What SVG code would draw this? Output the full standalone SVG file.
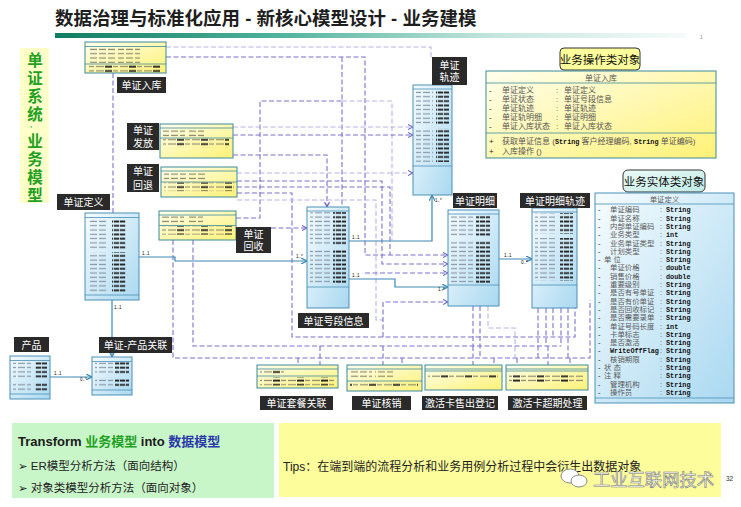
<svg xmlns="http://www.w3.org/2000/svg" width="741" height="507" viewBox="0 0 741 507">
<style>
text{font-family:'Liberation Sans','Noto Sans CJK SC','DejaVu Sans',sans-serif}
.dk{fill:#2a2a2a}
.dkt{fill:#fff;font-size:10px;text-anchor:middle}
.cb{fill:url(#gB);stroke:#4a8fb8;stroke-width:1}
.cy{fill:url(#gY);stroke:#3b8a9c;stroke-width:1}
.sep{stroke:#4a8fb8;stroke-width:0.8}
.sepy{stroke:#3b8a9c;stroke-width:0.8}
.d{fill:none;stroke:#7a70d0;stroke-width:1.1;stroke-dasharray:5 2.5}
.dl{fill:none;stroke:#b7b3e6;stroke-width:1.1;stroke-dasharray:5 2.5}
.s{fill:none;stroke:#3b87b4;stroke-width:1.2}
.ml{font-size:4.5px;fill:#111}
.at{font-size:7.4px;fill:#5a5a5a}
.m{font-family:'Liberation Mono',monospace;font-weight:bold;fill:#111;font-size:6.8px}
.ra{font-size:8px;fill:#555}
</style>
<defs>
<linearGradient id="gB" x1="0" y1="0" x2="1" y2="1"><stop offset="0" stop-color="#f6fcff"/><stop offset="1" stop-color="#a9d8f0"/></linearGradient>
<linearGradient id="gY" x1="0" y1="0" x2="1" y2="1"><stop offset="0" stop-color="#ffffee"/><stop offset="1" stop-color="#fff176"/></linearGradient>
<linearGradient id="gT" x1="0" y1="0" x2="1" y2="1"><stop offset="0" stop-color="#ecfbf8"/><stop offset="1" stop-color="#bfeae4"/></linearGradient>
<linearGradient id="gBar" x1="0" y1="0" x2="1" y2="0"><stop offset="0" stop-color="#0f7d60"/><stop offset="0.35" stop-color="#4fb29a"/><stop offset="0.7" stop-color="#c5e6de"/><stop offset="1" stop-color="#f6fbfa"/></linearGradient>
<pattern id="pg" width="9" height="4.3" patternUnits="userSpaceOnUse"><rect x="0" y="1.5" width="7" height="1.2" fill="#8a96a6"/></pattern>
<pattern id="pk" width="6" height="4.3" patternUnits="userSpaceOnUse"><rect x="0" y="1.3" width="5.2" height="1.8" fill="#222"/></pattern>
<pattern id="py" width="9" height="4.3" patternUnits="userSpaceOnUse"><rect x="0" y="1.5" width="7" height="1.2" fill="#8c8a6c"/></pattern>
<pattern id="pm" width="24" height="4.3" patternUnits="userSpaceOnUse"><rect x="0" y="1.5" width="8" height="1.2" fill="#8c8a6c"/><rect x="9" y="1.3" width="7" height="1.8" fill="#222"/><rect x="17" y="1.5" width="5" height="1.2" fill="#8c8a6c"/></pattern>
<marker id="as" viewBox="0 0 6 6" refX="6" refY="3" markerWidth="5" markerHeight="5" orient="auto"><path d="M0,0 L6,3 L0,6" fill="none" stroke="#3b87b4" stroke-width="1.2"/></marker>
<marker id="ad" viewBox="0 0 6 6" refX="6" refY="3" markerWidth="5" markerHeight="5" orient="auto"><path d="M0,0 L6,3 L0,6" fill="none" stroke="#6a60c0" stroke-width="1.2"/></marker>
</defs>

<rect width="741" height="507" fill="#fff"/>

<!-- title -->
<text x="55" y="25" font-size="18.5" font-weight="bold" fill="#1e1e1e">数据治理与标准化应用 - 新核心模型设计 - 业务建模</text>
<rect x="55" y="33" width="631" height="5" fill="url(#gBar)"/>
<text x="700" y="39" font-size="5" fill="#888" font-family="Liberation Serif,serif">1</text>

<!-- left vertical title -->
<g id="side-label">
<rect x="20" y="48" width="29" height="155" fill="#ffffc8"/>
<g font-size="15.5" font-weight="bold" fill="#22a022" text-anchor="middle">
<text x="35" y="66">单</text><text x="35" y="84">证</text><text x="35" y="102">系</text><text x="35" y="120">统</text>
<text x="31" y="131" font-size="7">'</text>
<text x="35" y="147">业</text><text x="35" y="165">务</text><text x="35" y="183">模</text><text x="35" y="201">型</text>
</g>
</g>

<!-- connectors -->
<g id="connectors">
<path class="dl" d="M166 47 H431 V57"/>
<path class="d" d="M166 57 H365 V255 H448" marker-end="url(#ad)"/>
<path class="d" d="M113 73 V213"/>
<path class="d" d="M342 57 V207"/>
<path class="d" d="M236 218 H260 V101 H342"/>
<path class="dl" d="M342 101 H392 V240"/>
<path class="dl" d="M233 127 H413" marker-end="url(#ad)"/>
<path class="d" d="M233 135 H413" marker-end="url(#ad)"/>
<path class="d" d="M233 155 H327 V207" marker-end="url(#ad)"/>
<path class="dl" d="M237 173 H413" marker-end="url(#ad)"/>
<path class="d" d="M237 181 H382 V264 H448" marker-end="url(#ad)"/>
<path class="d" d="M237 187 H390 V255"/>
<path class="d" d="M237 193 H292 V337 H575 V308"/>
<path class="dl" d="M237 200 H376 V320 H383"/>
<path class="d" d="M271 228 H307" marker-end="url(#ad)"/>
<path class="d" d="M365 273 H448" marker-end="url(#ad)"/>
<path class="d" d="M383 337 V302 H448" marker-end="url(#ad)"/>
<path class="d" d="M173 240 V358 H590 V300"/>
<path class="d" d="M193 240 V346 H561"/>
<path class="d" d="M473 306 V346"/>
<path class="d" d="M480 306 V358"/>
<path class="dl" d="M488 306 V328 H515 V358"/>
<path class="d" d="M538 308 V358"/>
<path class="d" d="M546 308 V346"/>
<path class="d" d="M553 308 V337"/>
<path class="d" d="M561 308 V346"/>
<path class="d" d="M568 308 V358"/>
<path class="d" d="M298 358 V365"/>
<path class="d" d="M320 346 V365"/>
<path class="d" d="M383 346 V365"/>
<path class="d" d="M402 358 V365"/>
<path class="d" d="M473 346 V365"/>
<path class="d" d="M494 358 V365"/>
<path class="d" d="M517 358 V365"/>
<path class="d" d="M548 346 V365"/>
<path class="d" d="M570 358 V365"/>
<!-- solid associations -->
<path class="s" d="M139 257 H175 V261 H307" marker-end="url(#as)"/>
<path class="s" d="M112 300 V357" marker-end="url(#as)"/>
<path class="s" d="M50 377 H92" marker-end="url(#as)"/>
<path class="s" d="M349 241 H432 V195" marker-end="url(#as)"/>
<path class="s" d="M349 279 H395 V287 H448" marker-end="url(#as)"/>
<path class="s" d="M499 259 H532" marker-end="url(#as)"/>
<text class="ml" x="142" y="255">1..1</text>
<text class="ml" x="296" y="258">1..*</text>
<text class="ml" x="114" y="309">1..1</text>
<text class="ml" x="54" y="375">1..1</text>
<text class="ml" x="80" y="381">0..*</text>
<text class="ml" x="352" y="239">1..1</text>
<text class="ml" x="435" y="202">1..*</text>
<text class="ml" x="352" y="277">1..1</text>
<text class="ml" x="438" y="291">1..*</text>
<text class="ml" x="504" y="257">1..1</text>
<text class="ml" x="521" y="264">0..*</text>
</g>

<!-- yellow class boxes -->
<g id="n-rk-small">
<rect class="cy" x="85" y="42" width="81" height="31"/>
<line class="sepy" x1="85" y1="46.5" x2="166" y2="46.5"/>
<rect x="88" y="47" width="28" height="16" fill="url(#py)"/><rect x="118" y="47" width="22" height="16" fill="url(#py)"/>
<line class="sepy" x1="85" y1="64" x2="166" y2="64"/>
<rect x="88" y="64.5" width="72" height="8" fill="url(#pm)"/>
</g>
<g id="n-ff">
<rect class="cy" x="160" y="124" width="73" height="34"/>
<line class="sepy" x1="160" y1="128" x2="233" y2="128"/>
<rect x="163" y="129" width="22" height="8.6" fill="url(#py)"/><rect x="188" y="129" width="16" height="8.6" fill="url(#py)"/>
<line class="sepy" x1="160" y1="138" x2="233" y2="138"/>
<rect x="163" y="138.5" width="66" height="8.6" fill="url(#pm)"/>
</g>
<g id="n-ht">
<rect class="cy" x="161" y="167" width="76" height="30"/>
<line class="sepy" x1="161" y1="171" x2="237" y2="171"/>
<rect x="164" y="172" width="22" height="8.6" fill="url(#py)"/><rect x="189" y="172" width="16" height="8.6" fill="url(#py)"/>
<line class="sepy" x1="161" y1="182" x2="237" y2="182"/>
<rect x="164" y="182.5" width="70" height="8.6" fill="url(#pm)"/>
</g>
<g id="n-hs">
<rect class="cy" x="159" y="211" width="77" height="29"/>
<line class="sepy" x1="159" y1="215" x2="236" y2="215"/>
<rect x="162" y="216" width="22" height="8.6" fill="url(#py)"/><rect x="187" y="216" width="16" height="8.6" fill="url(#py)"/>
<line class="sepy" x1="159" y1="225.5" x2="236" y2="225.5"/>
<rect x="162" y="226" width="70" height="8.6" fill="url(#pm)"/>
</g>
<g id="n-tcgl">
<rect class="cy" x="257" y="365" width="81" height="23"/>
<line class="sepy" x1="257" y1="369" x2="338" y2="369"/>
<rect x="260" y="370" width="24" height="4.3" fill="url(#pm)"/>
<line class="sepy" x1="257" y1="376" x2="338" y2="376"/>
<rect x="260" y="377" width="74" height="8.6" fill="url(#pm)"/>
</g>
<g id="n-hx">
<rect class="cy" x="347" y="365" width="75" height="26"/>
<line class="sepy" x1="347" y1="369" x2="422" y2="369"/>
<rect x="350" y="370" width="22" height="8.6" fill="url(#py)"/><rect x="375" y="370" width="18" height="8.6" fill="url(#py)"/>
<line class="sepy" x1="347" y1="381" x2="422" y2="381"/>
<rect x="350" y="382" width="68" height="4.3" fill="url(#pm)"/>
</g>
<g id="n-sc">
<rect class="cy" x="425" y="365" width="77" height="25"/>
<line class="sepy" x1="425" y1="369" x2="502" y2="369"/>
<line class="sepy" x1="425" y1="371" x2="502" y2="371"/>
<rect x="428" y="374" width="70" height="4.3" fill="url(#pm)"/>
</g>
<g id="n-cq">
<rect class="cy" x="506" y="365" width="82" height="25"/>
<line class="sepy" x1="506" y1="369" x2="588" y2="369"/>
<line class="sepy" x1="506" y1="371" x2="588" y2="371"/>
<rect x="509" y="374" width="74" height="8.6" fill="url(#pm)"/>
</g>

<!-- blue class boxes -->
<g id="n-djdy-left">
<rect class="cb" x="85" y="213" width="54" height="87"/>
<line class="sep" x1="85" y1="217.5" x2="139" y2="217.5"/>
<rect x="88" y="219" width="20" height="30" fill="url(#pg)"/><rect x="88" y="252" width="20" height="40" fill="url(#pg)"/>
<rect x="112" y="219" width="14" height="30" fill="url(#pk)"/><rect x="112" y="252" width="14" height="40" fill="url(#pk)"/>
<line class="sep" x1="85" y1="295" x2="139" y2="295"/>
</g>
<g id="n-cp">
<rect class="cb" x="10" y="356" width="40" height="43"/>
<line class="sep" x1="10" y1="360.5" x2="50" y2="360.5"/>
<rect x="13" y="362" width="18" height="17" fill="url(#pg)"/><rect x="13" y="383" width="18" height="8.6" fill="url(#pg)"/>
<rect x="35" y="362" width="12" height="17" fill="url(#pk)"/><rect x="35" y="383" width="12" height="8.6" fill="url(#pk)"/>
<line class="sep" x1="10" y1="394" x2="50" y2="394"/>
</g>
<g id="n-cpgl">
<rect class="cb" x="92" y="357" width="40" height="38"/>
<line class="sep" x1="92" y1="361.5" x2="132" y2="361.5"/>
<rect x="95" y="362" width="18" height="13" fill="url(#pg)"/><rect x="95" y="378" width="18" height="9" fill="url(#pg)"/>
<rect x="115" y="362" width="14" height="13" fill="url(#pk)"/><rect x="115" y="378" width="14" height="9" fill="url(#pk)"/>
<line class="sep" x1="92" y1="390" x2="132" y2="390"/>
</g>
<g id="n-hdxx">
<rect class="cb" x="307" y="207" width="42" height="101"/>
<line class="sep" x1="307" y1="211" x2="349" y2="211"/>
<rect x="310" y="212" width="20" height="34" fill="url(#pg)"/><rect x="310" y="249" width="20" height="35" fill="url(#pg)"/>
<rect x="333" y="212" width="13" height="34" fill="url(#pk)"/><rect x="333" y="249" width="13" height="35" fill="url(#pk)"/>
<line class="sep" x1="307" y1="287" x2="349" y2="287"/>
</g>
<g id="n-gj">
<rect class="cb" x="413" y="85" width="39" height="110"/>
<line class="sep" x1="413" y1="89" x2="452" y2="89"/>
<rect x="416" y="90" width="17" height="34" fill="url(#pg)"/><rect x="416" y="128" width="17" height="34" fill="url(#pg)"/>
<rect x="436" y="90" width="13" height="34" fill="url(#pk)"/><rect x="436" y="128" width="13" height="34" fill="url(#pk)"/>
<line class="sep" x1="413" y1="166" x2="452" y2="166"/>
</g>
<g id="n-mx">
<rect class="cb" x="448" y="210" width="51" height="96"/>
<line class="sep" x1="448" y1="214" x2="499" y2="214"/>
<rect x="451" y="215" width="22" height="21" fill="url(#pg)"/><rect x="451" y="240" width="22" height="43" fill="url(#pg)"/>
<rect x="476" y="215" width="14" height="21" fill="url(#pk)"/><rect x="476" y="240" width="14" height="43" fill="url(#pk)"/>
<line class="sep" x1="448" y1="285" x2="499" y2="285"/>
</g>
<g id="n-mxgj">
<rect class="cb" x="532" y="208" width="45" height="100"/>
<line class="sep" x1="532" y1="212" x2="577" y2="212"/>
<rect x="535" y="213" width="20" height="21" fill="url(#pg)"/><rect x="535" y="238" width="20" height="43" fill="url(#pg)"/>
<rect x="560" y="213" width="13" height="21" fill="url(#pk)"/><rect x="560" y="238" width="13" height="43" fill="url(#pk)"/>
<line class="sep" x1="532" y1="285" x2="577" y2="285"/>
</g>

<!-- dark labels -->
<g id="lbl-rk"><rect class="dk" x="117" y="77" width="49" height="16"/><text class="dkt" x="141.5" y="89">单证入库</text></g>
<g id="lbl-ff"><rect class="dk" x="127" y="123" width="32" height="27"/><text class="dkt" x="143" y="134">单证</text><text class="dkt" x="143" y="147">发放</text></g>
<g id="lbl-ht"><rect class="dk" x="127" y="164" width="32" height="28"/><text class="dkt" x="143" y="175">单证</text><text class="dkt" x="143" y="189">回退</text></g>
<g id="lbl-hs"><rect class="dk" x="236" y="227" width="35" height="26"/><text class="dkt" x="253.5" y="238">单证</text><text class="dkt" x="253.5" y="250">回收</text></g>
<g id="lbl-djdy"><rect class="dk" x="57" y="194" width="53" height="16"/><text class="dkt" x="83.5" y="206">单证定义</text></g>
<g id="lbl-cp"><rect class="dk" x="14" y="337" width="35" height="15"/><text class="dkt" x="31.5" y="348.5">产品</text></g>
<g id="lbl-cpgl"><rect class="dk" x="99" y="337" width="73" height="16"/><text class="dkt" x="135.5" y="349">单证-产品关联</text></g>
<g id="lbl-hdxx"><rect class="dk" x="298" y="313" width="71" height="15"/><text class="dkt" x="333.5" y="324.5">单证号段信息</text></g>
<g id="lbl-gj"><rect class="dk" x="432" y="57" width="35" height="28"/><text class="dkt" x="449.5" y="68.5">单证</text><text class="dkt" x="449.5" y="81">轨迹</text></g>
<g id="lbl-mx"><rect class="dk" x="453" y="193" width="44" height="15"/><text class="dkt" x="475" y="204.5">单证明细</text></g>
<g id="lbl-mxgj"><rect class="dk" x="520" y="193" width="70" height="15"/><text class="dkt" x="555" y="204.5">单证明细轨迹</text></g>
<g id="lbl-tcgl"><rect class="dk" x="260" y="396" width="73" height="14"/><text class="dkt" x="296.5" y="407">单证套餐关联</text></g>
<g id="lbl-hx"><rect class="dk" x="352" y="396" width="59" height="14"/><text class="dkt" x="381.5" y="407">单证核销</text></g>
<g id="lbl-sc"><rect class="dk" x="422" y="396" width="76" height="14"/><text class="dkt" x="460" y="407">激活卡售出登记</text></g>
<g id="lbl-cq"><rect class="dk" x="508" y="396" width="79" height="14"/><text class="dkt" x="547.5" y="407">激活卡超期处理</text></g>

<!-- right: operation object -->
<g id="legend-op">
<rect x="560" y="48" width="80" height="22" rx="4" fill="#ffff9c" stroke="#333" stroke-width="1"/>
<text x="600" y="63.5" font-size="11.5" text-anchor="middle" fill="#111">业务操作类对象</text>
</g>
<g id="n-rk-big">
<rect class="cy" x="486" y="71" width="230" height="87" stroke="#4a8aa0"/>
<line class="sepy" x1="486" y1="83" x2="716" y2="83"/>
<text class="ra" x="601" y="80.5" text-anchor="middle">单证入库</text>
<g class="ra">
<text y="93"><tspan x="489" fill="#222">-</tspan><tspan x="502">单证定义</tspan><tspan x="556">:</tspan><tspan x="564">单证定义</tspan></text>
<text y="102"><tspan x="489" fill="#222">-</tspan><tspan x="502">单证状态</tspan><tspan x="556">:</tspan><tspan x="564">单证号段信息</tspan></text>
<text y="111"><tspan x="489" fill="#222">-</tspan><tspan x="502">单证轨迹</tspan><tspan x="556">:</tspan><tspan x="564">单证轨迹</tspan></text>
<text y="120"><tspan x="489" fill="#222">-</tspan><tspan x="502">单证轨明细</tspan><tspan x="556">:</tspan><tspan x="564">单证明细</tspan></text>
<text y="129"><tspan x="489" fill="#222">-</tspan><tspan x="502">单证入库状态</tspan><tspan x="556">:</tspan><tspan x="564">单证入库状态</tspan></text>
</g>
<line class="sepy" x1="486" y1="133" x2="716" y2="133"/>
<text class="ra" y="143.5"><tspan x="489" fill="#222">+</tspan><tspan x="502">获取单证信息 (</tspan><tspan class="m" font-size="8">String</tspan><tspan> 客户经理编码, </tspan><tspan class="m" font-size="8">String</tspan><tspan> 单证编码)</tspan></text>
<text class="ra" y="153.5"><tspan x="489" fill="#222">+</tspan><tspan x="502">入库操作 ()</tspan></text>
</g>

<!-- right: entity object -->
<g id="legend-ent">
<rect x="623" y="170" width="82" height="22" rx="5" fill="url(#gT)" stroke="#333" stroke-width="1"/>
<text x="664" y="185.5" font-size="11.5" text-anchor="middle" fill="#111">业务实体类对象</text>
</g>
<g id="n-djdy-big">
<rect class="cb" x="595" y="193" width="139" height="210"/>
<line class="sep" x1="595" y1="204" x2="734" y2="204"/>
<text class="at" x="664.5" y="201.5" text-anchor="middle">单证定义</text>
<g class="at">
<text y="212.3"><tspan x="598" fill="#222">-</tspan><tspan x="610">单证编码</tspan><tspan x="660">:</tspan><tspan x="666" class="m">String</tspan></text>
<text y="220.6"><tspan x="598" fill="#222">-</tspan><tspan x="610">单证名称</tspan><tspan x="660">:</tspan><tspan x="666" class="m">String</tspan></text>
<text y="228.9"><tspan x="598" fill="#222">-</tspan><tspan x="610">内部单证编码</tspan><tspan x="660">:</tspan><tspan x="666" class="m">String</tspan></text>
<text y="237.2"><tspan x="598" fill="#222">-</tspan><tspan x="610">业务类型</tspan><tspan x="660">:</tspan><tspan x="666" class="m">int</tspan></text>
<text y="245.5"><tspan x="598" fill="#222">-</tspan><tspan x="610">业务单证类型</tspan><tspan x="660">:</tspan><tspan x="666" class="m">String</tspan></text>
<text y="253.8"><tspan x="598" fill="#222">-</tspan><tspan x="610">计划类型</tspan><tspan x="660">:</tspan><tspan x="666" class="m">String</tspan></text>
<text y="262.1"><tspan x="598" fill="#222">-</tspan><tspan x="604">单 位</tspan><tspan x="660">:</tspan><tspan x="666" class="m">String</tspan></text>
<text y="270.4"><tspan x="598" fill="#222">-</tspan><tspan x="610">单证价格</tspan><tspan x="660">:</tspan><tspan x="666" class="m">double</tspan></text>
<text y="278.7"><tspan x="598" fill="#222">-</tspan><tspan x="610">销售价格</tspan><tspan x="660">:</tspan><tspan x="666" class="m">double</tspan></text>
<text y="287"><tspan x="598" fill="#222">-</tspan><tspan x="610">重要级别</tspan><tspan x="660">:</tspan><tspan x="666" class="m">String</tspan></text>
<text y="295.3"><tspan x="598" fill="#222">-</tspan><tspan x="610">是否有号单证</tspan><tspan x="660">:</tspan><tspan x="666" class="m">String</tspan></text>
<text y="303.6"><tspan x="598" fill="#222">-</tspan><tspan x="610">是否有价单证</tspan><tspan x="660">:</tspan><tspan x="666" class="m">String</tspan></text>
<text y="311.9"><tspan x="598" fill="#222">-</tspan><tspan x="610">是否回收标记</tspan><tspan x="660">:</tspan><tspan x="666" class="m">String</tspan></text>
<text y="320.2"><tspan x="598" fill="#222">-</tspan><tspan x="610">是否需要录单</tspan><tspan x="660">:</tspan><tspan x="666" class="m">String</tspan></text>
<text y="328.5"><tspan x="598" fill="#222">-</tspan><tspan x="610">单证号码长度</tspan><tspan x="660">:</tspan><tspan x="666" class="m">int</tspan></text>
<text y="336.8"><tspan x="598" fill="#222">-</tspan><tspan x="610">卡单标志</tspan><tspan x="660">:</tspan><tspan x="666" class="m">String</tspan></text>
<text y="345.1"><tspan x="598" fill="#222">-</tspan><tspan x="610">是否激活</tspan><tspan x="660">:</tspan><tspan x="666" class="m">String</tspan></text>
<text y="353.4"><tspan x="598" fill="#222">-</tspan><tspan x="610" class="m" font-size="6.3">WriteOffFlag</tspan><tspan x="660">:</tspan><tspan x="666" class="m">String</tspan></text>
<text y="361.7"><tspan x="598" fill="#222">-</tspan><tspan x="610">核销期限</tspan><tspan x="660">:</tspan><tspan x="666" class="m">String</tspan></text>
<text y="370"><tspan x="598" fill="#222">-</tspan><tspan x="604">状 态</tspan><tspan x="660">:</tspan><tspan x="666" class="m">String</tspan></text>
<text y="378.3"><tspan x="598" fill="#222">-</tspan><tspan x="604">注 释</tspan><tspan x="660">:</tspan><tspan x="666" class="m">String</tspan></text>
<text y="386.6"><tspan x="598" fill="#222">-</tspan><tspan x="610">管理机构</tspan><tspan x="660">:</tspan><tspan x="666" class="m">String</tspan></text>
<text y="394.9"><tspan x="598" fill="#222">-</tspan><tspan x="610">操作员</tspan><tspan x="660">:</tspan><tspan x="666" class="m">String</tspan></text>
</g>
<line class="sep" x1="595" y1="398" x2="734" y2="398"/>
</g>

<!-- bottom panels -->
<g id="panel-left">
<rect x="12" y="423" width="262" height="75" fill="#c9f6c9"/>
<text x="18" y="446" font-size="13" font-weight="bold" fill="#1a1a1a">Transform <tspan fill="#22a022">业务模型</tspan> into <tspan fill="#2a3aa8">数据模型</tspan></text>
<text x="18" y="470" font-size="11.5" fill="#222">➢ ER模型分析方法（面向结构）</text>
<text x="18" y="492" font-size="11.5" fill="#222">➢ 对象类模型分析方法（面向对象）</text>
</g>
<g id="panel-right">
<rect x="279" y="423" width="442" height="74" fill="#fdfd9c"/>
<text x="283" y="471" font-size="12" fill="#222">Tips：在端到端的流程分析和业务用例分析过程中会衍生出数据对象</text>
</g>
<g id="watermark">
<ellipse cx="570" cy="476" rx="9" ry="7" fill="#fff" stroke="#8a8a8a" stroke-width="1"/>
<ellipse cx="579" cy="481" rx="8" ry="6" fill="#fff" stroke="#8a8a8a" stroke-width="1"/>
<text x="593" y="486" font-size="17.3" fill="#ffffff" stroke="#7a7a7a" stroke-width="0.6">工业互联网技术</text>
<text x="726" y="481" font-size="6.5" fill="#333" font-family="Liberation Serif,serif">32</text>
</g>
</svg>
